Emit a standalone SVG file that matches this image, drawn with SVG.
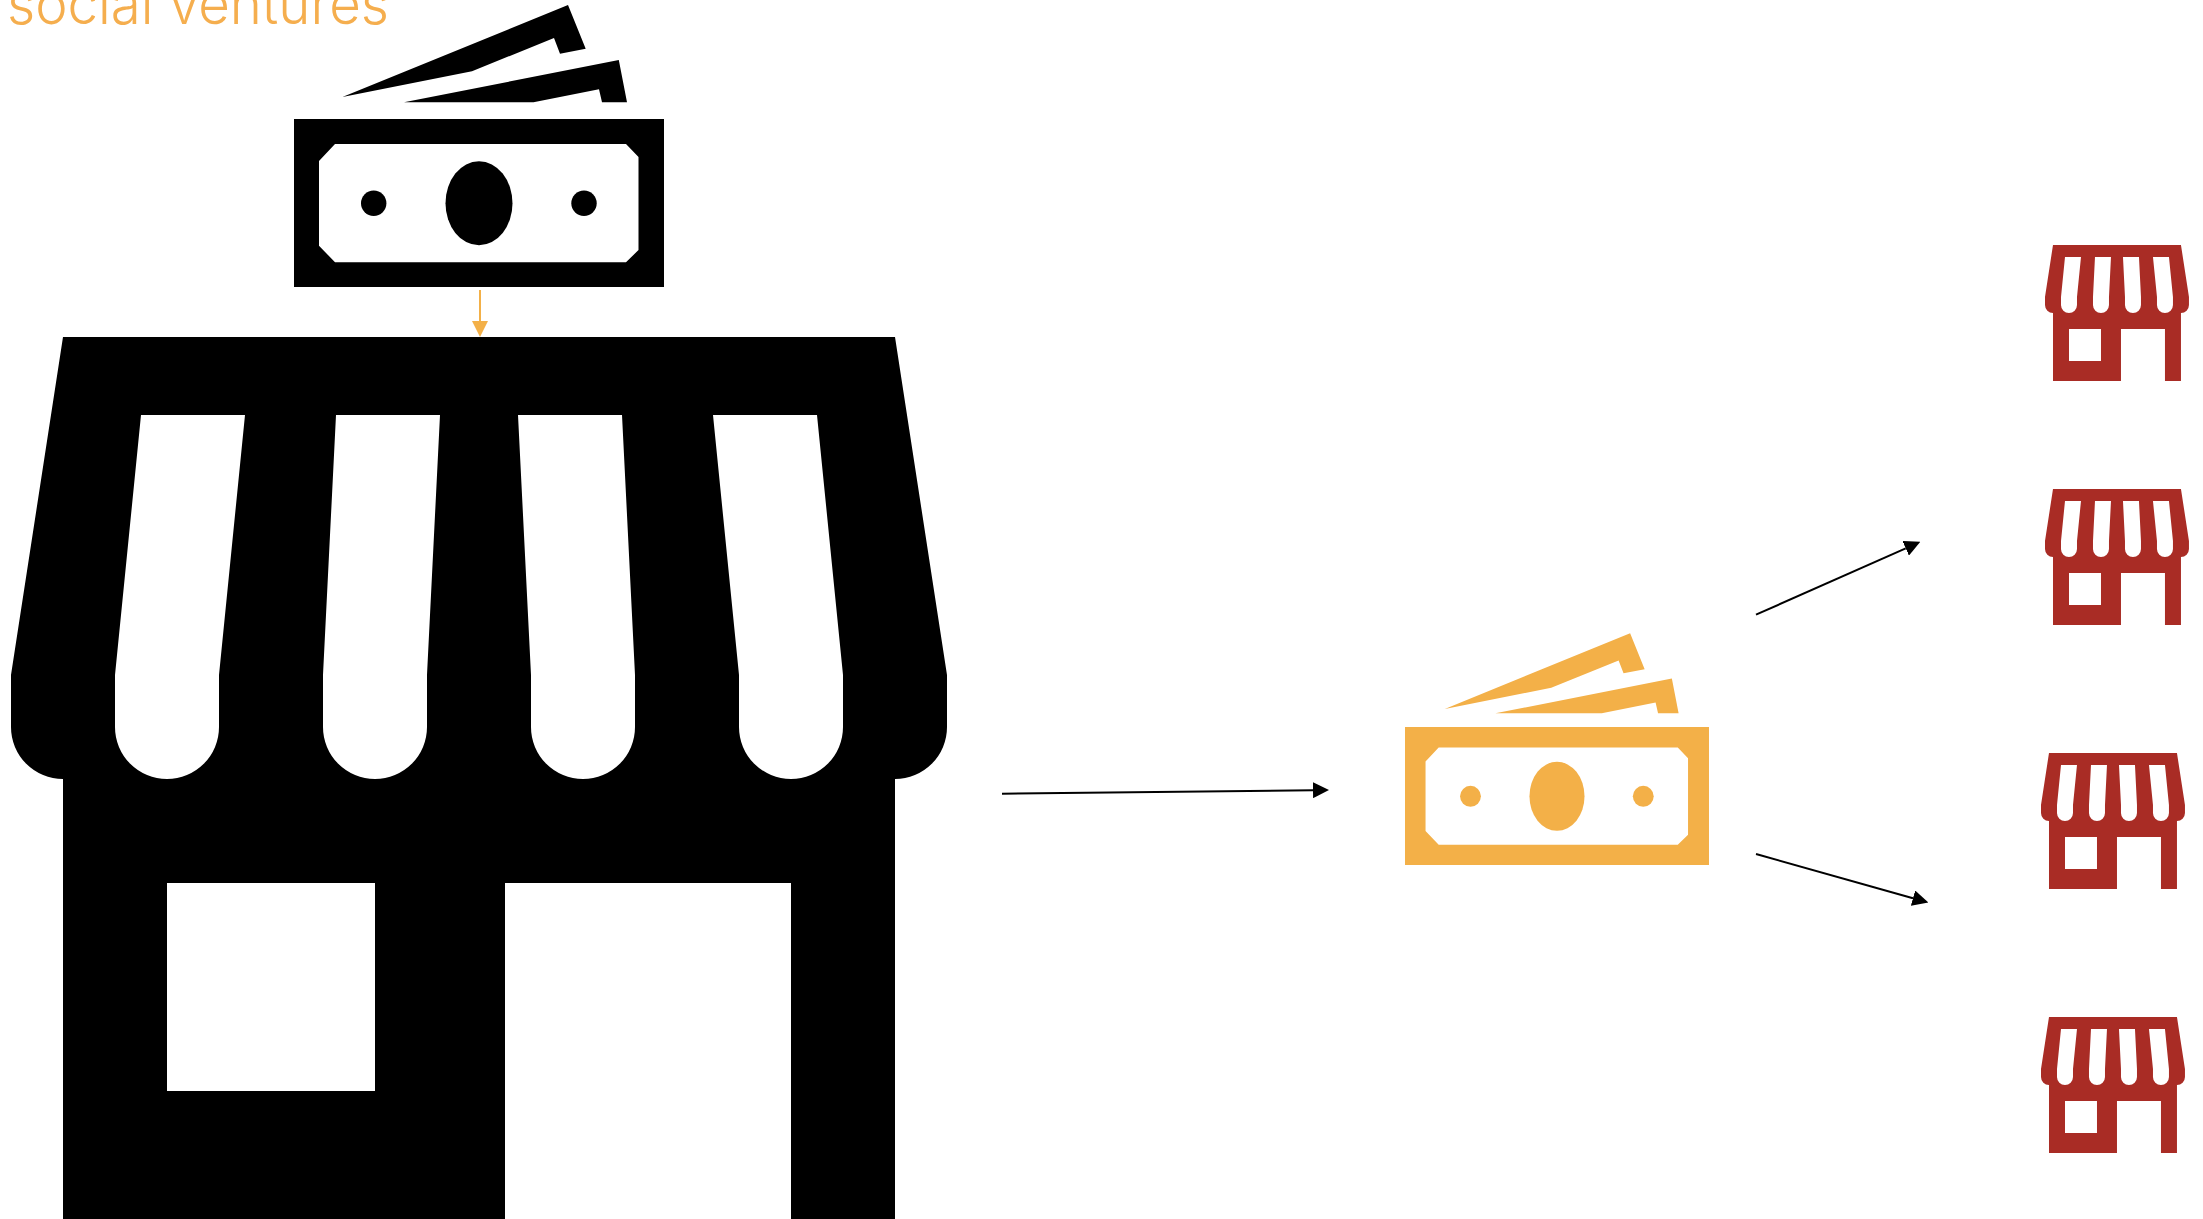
<svg xmlns="http://www.w3.org/2000/svg" width="2203" height="1219" viewBox="0 0 2203 1219">
<style>
.conn{stroke:#000;stroke-width:2;fill:none}
.orange{fill:#F3B048}
.red{fill:#A92C25}
.label{font-family:"Inter","Liberation Sans",sans-serif;font-weight:300;font-size:56px;fill:#F5AE4E}
</style>
<defs>
<marker id="ah" markerUnits="userSpaceOnUse" markerWidth="16" markerHeight="16" refX="0" refY="8" orient="auto"><path d="M0,0L16,8L0,16Z" fill="#000"/></marker>
<marker id="ao" markerUnits="userSpaceOnUse" markerWidth="16" markerHeight="16" refX="0" refY="8" orient="auto"><path d="M0,0L16,8L0,16Z" fill="#F3B048"/></marker>
<g id="store">
<path fill-rule="evenodd" d="M63,337H895L947,675V727A52,52 0 0 1 895,779V1221H791V883H505V1221H63V779A52,52 0 0 1 11,727V675Z
M141,415H245L219,675V727A52,52 0 0 1 115,727V675Z
M336,415H440L427,675V727A52,52 0 0 1 323,727V675Z
M518,415H622L635,675V727A52,52 0 0 1 531,727V675Z
M713,415H817L843,675V727A52,52 0 0 1 739,727V675Z
M167,883H375V1091H167Z"/>
</g>
<g id="bill">
<path d="M342.4,97L568,5L585.7,48.7L560,53.7L554,38L472,71.3Z"/>
<path d="M404,102.3L618.8,60L627,102.3H602L599,89.3L533.5,102.3Z"/>
<path fill-rule="evenodd" d="M294,119H664V287H294Z M335,144H626L638.5,157V250L626,262.3H335L319,245.7V161Z"/>
<ellipse cx="479" cy="203.3" rx="33.5" ry="42"/>
<circle cx="373.7" cy="203.3" r="12.7"/>
<circle cx="584" cy="203.3" r="12.7"/>
</g>
</defs>
<rect width="2203" height="1219" fill="#fff"/>
<text id="label" class="label" x="7" y="24" textLength="382" lengthAdjust="spacingAndGlyphs">social ventures</text>
<g id="connectors">
<line class="conn" style="stroke:#F3B048" x1="480" y1="290" x2="480" y2="321" marker-end="url(#ao)"/>
<line class="conn" x1="1002" y1="793.7" x2="1313" y2="790.2" marker-end="url(#ah)"/>
<line class="conn" x1="1756" y1="614.7" x2="1905.7" y2="548.3" marker-end="url(#ah)"/>
<line class="conn" x1="1756" y1="854" x2="1913" y2="898.2" marker-end="url(#ah)"/>
</g>
<g id="bill-black"><use href="#bill"/></g>
<g id="store-main"><use href="#store"/></g>
<g id="bill-orange" class="orange"><use href="#bill" transform="translate(1405,727) scale(.8216) translate(-294,-119)"/></g>
<g id="store-1" class="red"><use href="#store" transform="translate(2053,245) scale(.1538) translate(-63,-337)"/></g>
<g id="store-2" class="red"><use href="#store" transform="translate(2053,489) scale(.1538) translate(-63,-337)"/></g>
<g id="store-3" class="red"><use href="#store" transform="translate(2049,753) scale(.1538) translate(-63,-337)"/></g>
<g id="store-4" class="red"><use href="#store" transform="translate(2049,1017) scale(.1538) translate(-63,-337)"/></g>
</svg>
